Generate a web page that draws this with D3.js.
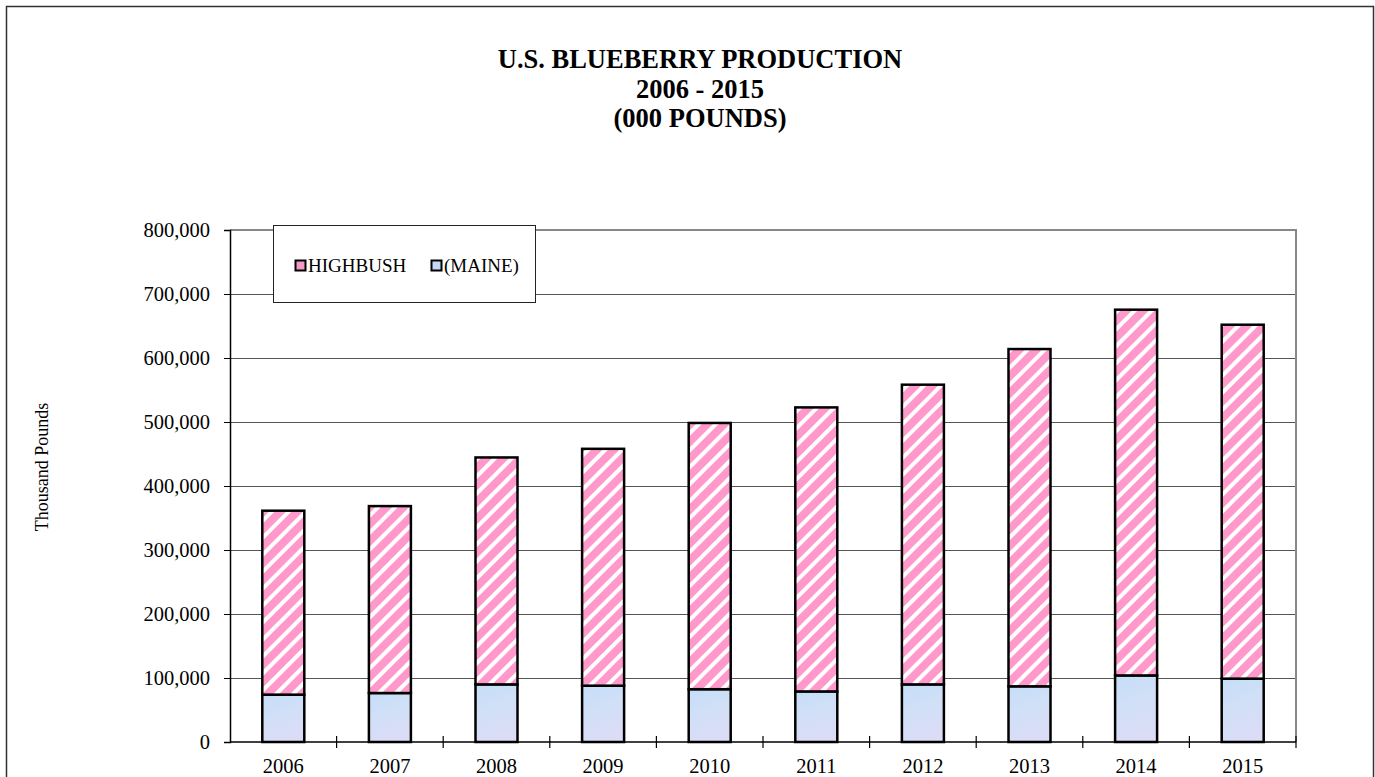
<!DOCTYPE html>
<html>
<head>
<meta charset="utf-8">
<script src="https://cdn.jsdelivr.net/npm/d3@7"></script>
<style>
  html, body { margin: 0; padding: 0; background: #fff; overflow: hidden; }
  svg { display: block; }
  text { font-family: "Liberation Serif", "Times New Roman", serif; fill: #000; }
</style>
</head>
<body>
<svg id="chart" width="1375" height="777"></svg>
<script>
// ---- data ----
const years = ["2006", "2007", "2008", "2009", "2010", "2011", "2012", "2013", "2014", "2015"];
const maine = [74000, 76500, 90000, 88000, 82500, 79000, 90000, 87000, 104000, 99000];
const highbush = [287400, 292100, 354600, 370100, 416000, 443800, 468300, 527000, 571500, 553000];
const yTicks = [0, 100000, 200000, 300000, 400000, 500000, 600000, 700000, 800000];
const seriesNames = ["HIGHBUSH", "(MAINE)"];
const titleLines = ["U.S. BLUEBERRY PRODUCTION", "2006 - 2015", "(000 POUNDS)"];
const yAxisTitle = "Thousand Pounds";

// ---- layout ----
const svg = d3.select("#chart");
const plot = { left: 230, right: 1296, top: 230, bottom: 742 };

const xBand = d3.scaleBand().domain(years).range([plot.left, plot.right]);
const y = d3.scaleLinear().domain([0, 800000]).range([plot.bottom, plot.top]);

// defs: patterns
const defs = svg.append("defs");
const pat = defs.append("pattern")
  .attr("id", "stripes")
  .attr("patternUnits", "userSpaceOnUse")
  .attr("width", 12).attr("height", 12)
  .attr("patternTransform", "rotate(45)");
pat.append("rect").attr("width", 12).attr("height", 12).attr("fill", "#ff99cc");
pat.append("rect").attr("x", 0).attr("width", 4).attr("height", 12).attr("fill", "#ffffff");

const grad = defs.append("linearGradient").attr("id", "blueTex")
  .attr("x1", 0).attr("y1", 0).attr("x2", 0.3).attr("y2", 1);
grad.append("stop").attr("offset", "0%").attr("stop-color", "#c6ddf8");
grad.append("stop").attr("offset", "50%").attr("stop-color", "#d0e0f7");
grad.append("stop").attr("offset", "100%").attr("stop-color", "#dbdcf6");

// outer border
svg.append("rect")
  .attr("x", 6.5).attr("y", 6.5).attr("width", 1367).attr("height", 800)
  .attr("fill", "none").attr("stroke", "#333").attr("stroke-width", 1.5);

// title
const title = svg.append("text")
  .attr("x", 700).attr("text-anchor", "middle")
  .style("font-weight", "bold").style("font-size", "26.5px");
titleLines.forEach((t, i) => {
  title.append("tspan").attr("x", 700).attr("y", 68 + i * 29.5).text(t);
});

// gridlines
svg.append("g").selectAll("line")
  .data(yTicks.filter(d => d > 0 && d < 800000))
  .join("line")
  .attr("x1", plot.left).attr("x2", plot.right)
  .attr("y1", d => Math.round(y(d)) + 0.5).attr("y2", d => Math.round(y(d)) + 0.5)
  .attr("stroke", "#555").attr("stroke-width", 1.2);

// plot top & right border (gray)
svg.append("line")
  .attr("x1", plot.left).attr("x2", plot.right + 1)
  .attr("y1", y(800000)).attr("y2", y(800000))
  .attr("stroke", "#888").attr("stroke-width", 2);
svg.append("line")
  .attr("x1", plot.right).attr("x2", plot.right)
  .attr("y1", plot.top).attr("y2", plot.bottom)
  .attr("stroke", "#888").attr("stroke-width", 2);

// y axis
const yAxis = d3.axisLeft(y).tickValues(yTicks).tickSize(6).tickPadding(14)
  .tickFormat(d3.format(","));
const gy = svg.append("g").attr("transform", `translate(${plot.left},0)`).call(yAxis);
gy.select(".domain").attr("stroke", "#000").attr("stroke-width", 1.5);
gy.selectAll(".tick line").attr("stroke", "#000");
gy.selectAll(".tick text").style("font-size", "20.5px")
  .style("font-family", '"Liberation Serif", "Times New Roman", serif').attr("fill", "#000");

// x axis: ticks at category boundaries (crossing)
const gx = svg.append("g");
gx.append("line")
  .attr("x1", plot.left).attr("x2", plot.right)
  .attr("y1", plot.bottom).attr("y2", plot.bottom)
  .attr("stroke", "#000").attr("stroke-width", 1.5);
const bounds = years.map(d => xBand(d)).concat([xBand(years[years.length - 1]) + xBand.bandwidth()]);
gx.selectAll("line.tk").data(bounds.slice(1)).join("line").attr("class", "tk")
  .attr("x1", d => d).attr("x2", d => d)
  .attr("y1", plot.bottom - 6).attr("y2", plot.bottom + 6)
  .attr("stroke", "#000").attr("stroke-width", 1.2);
gx.selectAll("text").data(years).join("text")
  .attr("x", d => xBand(d) + xBand.bandwidth() / 2)
  .attr("y", 773)
  .attr("text-anchor", "middle")
  .style("font-size", "20.5px")
  .text(d => d);

// bars
const stacked = years.map((yr, i) => ({ yr, m: maine[i], h: highbush[i] }));
const bw = 42;
const bars = svg.append("g");
bars.selectAll("rect.maine").data(stacked).join("rect").attr("class", "maine")
  .attr("x", d => xBand(d.yr) + xBand.bandwidth() / 2 - bw / 2)
  .attr("width", bw)
  .attr("y", d => y(d.m))
  .attr("height", d => y(0) - y(d.m))
  .attr("fill", "url(#blueTex)")
  .attr("stroke", "#000").attr("stroke-width", 2.5);
bars.selectAll("rect.high").data(stacked).join("rect").attr("class", "high")
  .attr("x", d => xBand(d.yr) + xBand.bandwidth() / 2 - bw / 2)
  .attr("width", bw)
  .attr("y", d => y(d.m + d.h))
  .attr("height", d => y(d.m) - y(d.m + d.h))
  .attr("fill", "url(#stripes)")
  .attr("stroke", "#000").attr("stroke-width", 2.5);

// y-axis title
svg.append("text")
  .attr("transform", `translate(48,467) rotate(-90)`)
  .attr("text-anchor", "middle")
  .style("font-size", "18px")
  .text(yAxisTitle);

// legend
const lg = svg.append("g");
lg.append("rect").attr("x", 273.5).attr("y", 225.5).attr("width", 262).attr("height", 77)
  .attr("fill", "#fff").attr("stroke", "#222").attr("stroke-width", 1);
const legendItems = [
  { name: seriesNames[0], x: 295, fill: "#f59ac4" },
  { name: seriesNames[1], x: 431, fill: "#c4d8f6" }
];
legendItems.forEach(it => {
  lg.append("rect").attr("x", it.x + 0.5).attr("y", 260.5).attr("width", 10).attr("height", 10)
    .attr("fill", it.fill).attr("stroke", "#000").attr("stroke-width", 2);
  lg.append("text").attr("x", it.x + 13).attr("y", 272)
    .style("font-size", "19px").text(it.name);
});
</script>
</body>
</html>
